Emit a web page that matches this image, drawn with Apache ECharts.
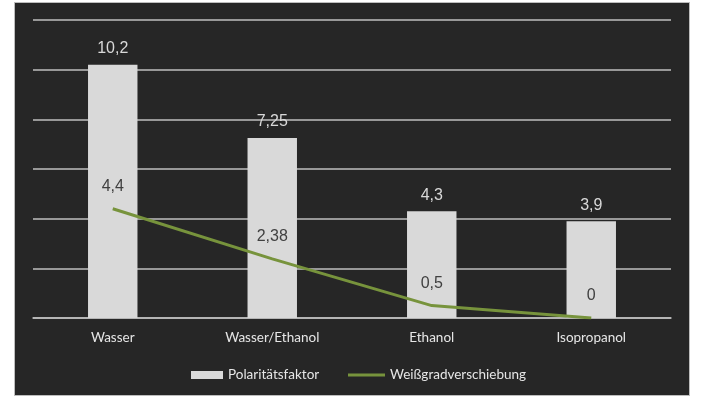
<!DOCTYPE html>
<html>
<head>
<meta charset="utf-8">
<script src="https://cdn.jsdelivr.net/npm/echarts@6/dist/echarts.min.js"></script>
<style>
html,body{margin:0;padding:0;background:#ffffff;width:705px;height:397px;overflow:hidden;}
#chart{position:absolute;left:15px;top:3px;width:674px;height:392px;background:#262626;box-shadow:0 0 0 1px #bdbdbd;}
</style>
</head>
<body>
<div id="chart"></div>
<script>
const categories = ['Wasser', 'Wasser/Ethanol', 'Ethanol', 'Isopropanol'];
const polaritaet = [10.2, 7.25, 4.3, 3.9];
const weissgrad = [4.4, 2.38, 0.5, 0];
const seriesNames = ['Polaritätsfaktor', 'Weißgradverschiebung'];

const fmt = p => String(p.value).replace('.', ',');
const chart = echarts.init(document.getElementById('chart'), null, {renderer: 'canvas'});
chart.setOption({
  backgroundColor: '#262626',
  animation: false,
  grid: {left: 18, right: 18, top: 17, bottom: 77},
  legend: [
    {data: [seriesNames[0]], left: 171, top: 360, itemWidth: 32, itemHeight: 8, icon: 'rect',
     textStyle: {color: '#e6e6e6', fontFamily: 'Lato', fontSize: 13.5}},
    {data: [seriesNames[1]], left: 328, top: 360, itemWidth: 37, itemHeight: 3, icon: 'rect',
     itemGap: 2, textStyle: {color: '#e6e6e6', fontFamily: 'Lato', fontSize: 13.5}}
  ],
  xAxis: {
    type: 'category', data: categories,
    axisLine: {lineStyle: {color: '#bfbfbf', width: 1.5}},
    axisTick: {show: false},
    axisLabel: {color: '#e6e6e6', fontFamily: 'Lato', fontSize: 13.5, margin: 13}
  },
  yAxis: {
    type: 'value', min: 0, max: 12, interval: 2,
    axisLabel: {show: false}, axisLine: {show: false}, axisTick: {show: false},
    splitLine: {lineStyle: {color: '#bfbfbf', width: 1.5}}
  },
  series: [
    {name: seriesNames[0], type: 'bar', data: polaritaet, barWidth: '31%',
     itemStyle: {color: '#d9d9d9'},
     label: {show: true, position: 'top', distance: 8, formatter: fmt,
             color: '#d9d9d9', fontFamily: 'Liberation Sans', fontSize: 16}},
    {name: seriesNames[1], type: 'line', data: weissgrad,
     symbol: 'circle', symbolSize: 0, showSymbol: true,
     itemStyle: {color: '#77933c'},
     lineStyle: {color: '#77933c', width: 3},
     label: {show: true, position: 'top', distance: 14, formatter: fmt,
             color: '#404040', fontFamily: 'Liberation Sans', fontSize: 16}}
  ]
});
</script>
</body>
</html>
